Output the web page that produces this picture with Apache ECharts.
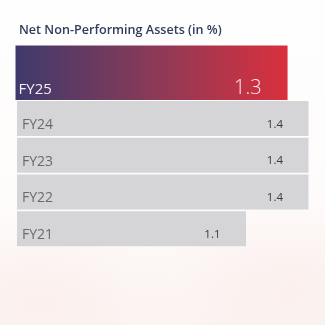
<!DOCTYPE html>
<html>
<head>
<meta charset="utf-8">
<script src="https://cdn.jsdelivr.net/npm/echarts@6/dist/echarts.min.js"></script>
<style>
html,body{margin:0;padding:0;}
body{width:325px;height:325px;background:
 radial-gradient(ellipse 140px 90px at 40px 300px, rgba(248,228,224,0.4), rgba(255,255,255,0) 100%),
 radial-gradient(ellipse 160px 100px at 290px 290px, rgba(248,230,226,0.45), rgba(255,255,255,0) 100%),
 linear-gradient(to bottom, #fefefe 0%, #fefcfb 60%, #fcf6f4 100%);}
#c{width:325px;height:325px;}
</style>
</head>
<body>
<div id="c"></div>
<script>
var titleText = 'Net Non-Performing Assets (in %)';
var latestCategory = ['FY25'];
var latestValues = [1.3];
var pastCategories = ['FY24', 'FY23', 'FY22', 'FY21'];
var pastValues = [1.4, 1.4, 1.4, 1.1];

var FONT = '"Open Sans", sans-serif';
var chart = echarts.init(document.getElementById('c'));
var xMax = 1.4;
chart.setOption({
  backgroundColor: 'transparent',
  animation: false,
  title: {
    text: titleText, left: 14, top: 18.5,
    textStyle: {fontFamily: FONT, fontSize: 12.6, fontWeight: 600, color: '#2f3d5e'}
  },
  grid: [
    {left: 15.5, right: 325 - 308.5, top: 45.5, height: 54.5},
    {left: 17, right: 325 - 308.5, top: 100, height: 147}
  ],
  xAxis: [
    {gridIndex: 0, type: 'value', min: 0, max: xMax, show: false},
    {gridIndex: 1, type: 'value', min: 0, max: xMax, show: false}
  ],
  yAxis: [
    {gridIndex: 0, type: 'category', data: latestCategory, show: false},
    {gridIndex: 1, type: 'category', data: pastCategories, inverse: true, show: false}
  ],
  series: [
    {
      type: 'bar', xAxisIndex: 0, yAxisIndex: 0, data: latestValues, barWidth: 54.5,
      itemStyle: {color: new echarts.graphic.LinearGradient(0, 0, 1, 0, [
        {offset: 0, color: '#3e3a6c'}, {offset: 0.5, color: '#8a3a58'}, {offset: 1, color: '#da303d'}])},
      label: {show: true, position: 'insideBottomLeft', distance: 3, offset: [0, 0],
        formatter: function (p) { return p.name; },
        fontFamily: FONT, fontSize: 15, color: '#f1eef6'}
    },
    {
      type: 'bar', xAxisIndex: 0, yAxisIndex: 0, data: latestValues, barWidth: 54.5, barGap: '-100%',
      itemStyle: {color: 'rgba(0,0,0,0)'},
      label: {show: true, position: 'insideBottomRight', distance: 2, offset: [-24, 0],
        formatter: function (p) { return p.value.toFixed(1); },
        fontFamily: FONT, fontSize: 20, fontWeight: 300, color: '#fbeeee'}
    },
    {
      type: 'bar', xAxisIndex: 1, yAxisIndex: 1, data: pastValues, barWidth: 35,
      itemStyle: {color: '#d5d5d7'},
      label: {show: true, position: 'insideBottomLeft', distance: 4, offset: [1, 0],
        formatter: function (p) { return p.name; },
        fontFamily: FONT, fontSize: 14, color: '#6a6a6e'}
    },
    {
      type: 'bar', xAxisIndex: 1, yAxisIndex: 1, data: pastValues, barWidth: 35, barGap: '-100%',
      itemStyle: {color: 'rgba(0,0,0,0)'},
      label: {show: true, position: 'insideBottomRight', distance: 5.5, offset: [-20, 0],
        formatter: function (p) { return p.value.toFixed(1); },
        fontFamily: FONT, fontSize: 11.5, color: '#3a3a40'}
    }
  ]
});
</script>
</body>
</html>
